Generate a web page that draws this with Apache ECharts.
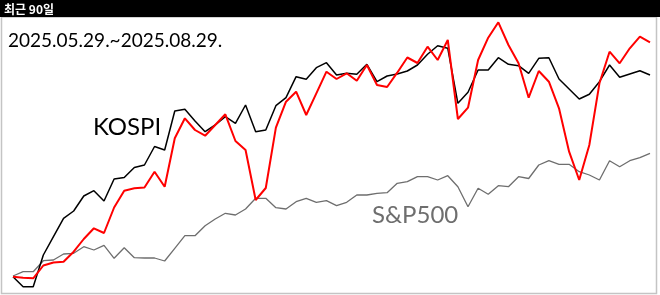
<!DOCTYPE html>
<html>
<head>
<meta charset="utf-8">
<script src="https://cdn.jsdelivr.net/npm/echarts@6/dist/echarts.min.js"></script>
<style>
html,body{margin:0;padding:0;background:#fff;}
#chart{width:660px;height:295px;}
</style>
</head>
<body>
<div id="chart"></div>
<script>
const headerText = '최근 90일';
const periodText = '2025.05.29.~2025.08.29.';
const kospiLabel = 'KOSPI';
const spLabel = 'S&P500';

const kospi = [18.3,8.3,8.3,40,58.3,76.7,84,99,104.3,94,116,117.5,127.5,130,148.5,145,184,185.7,174,163.3,170,178.3,171.7,190,163.3,165,189.3,197.3,218.3,215.7,227.3,232.3,220,221.7,220.7,230.7,213.3,219,221,224,230,240.7,249.3,246.7,191.7,202.7,225,225,237.3,230.7,229.3,221.7,236.7,237.3,216,206,196,200.7,213.3,230,217.7,221,224.3,220];
const stock = [18.3,17.3,16.7,29.5,32.5,33.3,43.3,56,66.7,62,87.5,104.3,106.7,107.5,123.3,108.3,156.7,176.7,165,159.3,170,180.7,154,145,95,107,167.3,193.3,203.3,180,201.7,223.3,216,221.7,214.3,230,210,208,222.3,237.5,232,248.3,235,255,176,187.3,235,257.3,272.7,250,231.7,197.3,224,213.3,186.7,143.3,115,150,211.7,243.3,231.7,246.7,258.3,252.7];
const sp500 = [19,23.3,23.3,34.3,35,41,41.7,48.3,45,49.7,36.7,47.3,37.3,37,37,34,46.7,59.3,59.3,69.3,76,81.7,80,86,96.7,96.7,87.3,86,93.3,96.7,92.7,94.3,89.3,92.7,100,100,101.7,102.3,111.7,113.3,118.3,118.3,115,119.3,108.3,88.3,106.7,100.7,109.3,108.3,118.3,116.5,130,134.3,130.7,130.7,123.3,120,115,134.3,128.3,134.3,137.3,141.7];
const days = kospi.map((_, i) => String(i + 1));

const chart = echarts.init(document.getElementById('chart'), null, {renderer: 'canvas'});
chart.setOption({
  animation: false,
  backgroundColor: '#fff',
  grid: {left: 13, right: 10, top: 0, bottom: 0},
  xAxis: {type: 'category', data: days, boundaryGap: false, show: false},
  yAxis: {type: 'value', min: 0, max: 295, show: false},
  graphic: [
    {type: 'rect', shape: {x: 1.5, y: 17, width: 655, height: 276.5}, style: {fill: 'none', stroke: '#c4c4c4', lineWidth: 1.5}, z: 1},
    {type: 'rect', shape: {x: 0, y: 0, width: 660, height: 17}, style: {fill: '#000'}, z: 10},
    {type: 'text', x: 4, y: 9, style: {text: headerText, fill: '#fff', font: 'bold 12px "Noto Sans CJK KR"', verticalAlign: 'middle'}, z: 11},
    {type: 'text', x: 8, y: 41, style: {text: periodText, fill: '#000', font: '19px Lato', verticalAlign: 'middle'}, z: 11},
    {type: 'text', x: 93, y: 127.5, style: {text: kospiLabel, fill: '#000', font: '24px Lato', verticalAlign: 'middle'}, z: 11},
    {type: 'text', x: 372, y: 215.5, style: {text: spLabel, fill: '#6e6e6e', font: '24px Lato', verticalAlign: 'middle'}, z: 11}
  ],
  series: [
    {type: 'line', data: sp500, symbol: 'none', lineStyle: {color: '#6e6e6e', width: 1.3}, z: 2},
    {type: 'line', data: kospi, symbol: 'none', lineStyle: {color: '#000', width: 1.5}, z: 3},
    {type: 'line', data: stock, symbol: 'none', lineStyle: {color: '#ff0000', width: 2}, z: 4}
  ]
});
</script>
</body>
</html>
